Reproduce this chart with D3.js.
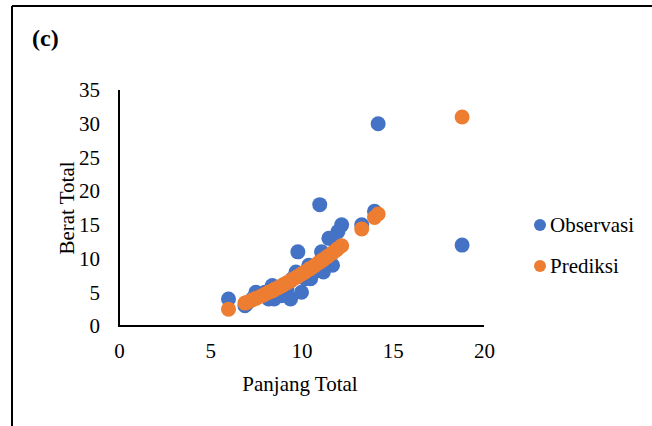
<!DOCTYPE html>
<html><head><meta charset="utf-8">
<script src="https://cdn.jsdelivr.net/npm/d3@7"></script>
<style>body{margin:0;background:#fff}svg{display:block}</style>
</head><body><svg id="c" width="652" height="426"></svg>
<script>
const panjang = [6.0,6.9,7.0,7.3,7.5,7.8,8.0,8.2,8.4,8.5,8.7,8.9,9.0,9.2,9.4,9.5,9.7,9.8,10.0,10.2,10.4,10.5,10.7,10.9,11.0,11.1,11.2,11.4,11.5,11.7,11.9,12.0,12.2,13.3,14.0,14.2,18.8];
const observasi = [4,3,3.3,4,5,4.5,5,4,6,4,5,4.5,6,5.5,4,7,8,11,5,7,9,7,8,9,18,11,8,10,13,9,12,14,15,15,17,30,12];
const prediksi = [2.5,3.4,3.5,3.85,4.1,4.45,4.7,5.0,5.2,5.4,5.65,5.95,6.1,6.4,6.7,6.9,7.2,7.35,7.7,8.0,8.4,8.55,8.9,9.3,9.5,9.7,9.85,10.25,10.45,10.85,11.25,11.5,11.9,14.4,16.1,16.6,31];
const xTicks = [0,5,10,15,20];
const yTicks = [0,5,10,15,20,25,30,35];
const seriesNames = ["Observasi","Prediksi"];
const colors = ["#4472C4","#ED7D31"];

const svg = d3.select("#c");
const font = "'Liberation Serif','Times New Roman',serif";
svg.append("line").attr("x1",12).attr("x2",12).attr("y1",6).attr("y2",426).attr("stroke","#000").attr("stroke-width",2);
svg.append("line").attr("x1",12).attr("x2",652).attr("y1",6).attr("y2",6).attr("stroke","#000").attr("stroke-width",2);

svg.append("text").attr("x",32).attr("y",46).attr("font-family",font).attr("font-weight","bold").attr("font-size",24).text("(c)");

const x = d3.scaleLinear().domain([0,20]).range([119,484]);
const y = d3.scaleLinear().domain([0,35]).range([326,90]);

const xAxis = svg.append("g").attr("transform","translate(0,326)")
  .call(d3.axisBottom(x).tickValues(xTicks).tickSize(0).tickPadding(17));
const yAxis = svg.append("g").attr("transform","translate(119,0)")
  .call(d3.axisLeft(y).tickValues(yTicks).tickSize(0).tickPadding(19));
[xAxis,yAxis].forEach(g=>{
  g.select(".domain").remove();
  g.selectAll("text").attr("font-family",font).attr("font-size",21).attr("fill","#000");
});
svg.append("line").attr("x1",119).attr("x2",119).attr("y1",y(35)).attr("y2",327).attr("stroke","#000").attr("stroke-width",2);
svg.append("line").attr("x1",118).attr("x2",x(20)).attr("y1",326).attr("y2",326).attr("stroke","#000").attr("stroke-width",2);

svg.append("text").attr("transform","translate(74,208) rotate(-90)").attr("text-anchor","middle")
  .attr("font-family",font).attr("font-size",21).text("Berat Total");
svg.append("text").attr("x",300).attr("y",391).attr("text-anchor","middle")
  .attr("font-family",font).attr("font-size",21).text("Panjang Total");

const plot = svg.append("g");
plot.selectAll("circle.obs").data(panjang).join("circle").attr("class","obs")
  .attr("cx",d=>x(d)).attr("cy",(d,i)=>y(observasi[i])).attr("r",7.5).attr("fill",colors[0]);
plot.selectAll("circle.pred").data(panjang).join("circle").attr("class","pred")
  .attr("cx",d=>x(d)).attr("cy",(d,i)=>y(prediksi[i])).attr("r",7.5).attr("fill",colors[1]);

const leg = svg.append("g");
seriesNames.forEach((n,i)=>{
  leg.append("circle").attr("cx",540).attr("cy",225+i*41).attr("r",6).attr("fill",colors[i]);
  leg.append("text").attr("x",550).attr("y",232+i*41).attr("font-family",font).attr("font-size",21).text(n);
});
</script></body></html>
